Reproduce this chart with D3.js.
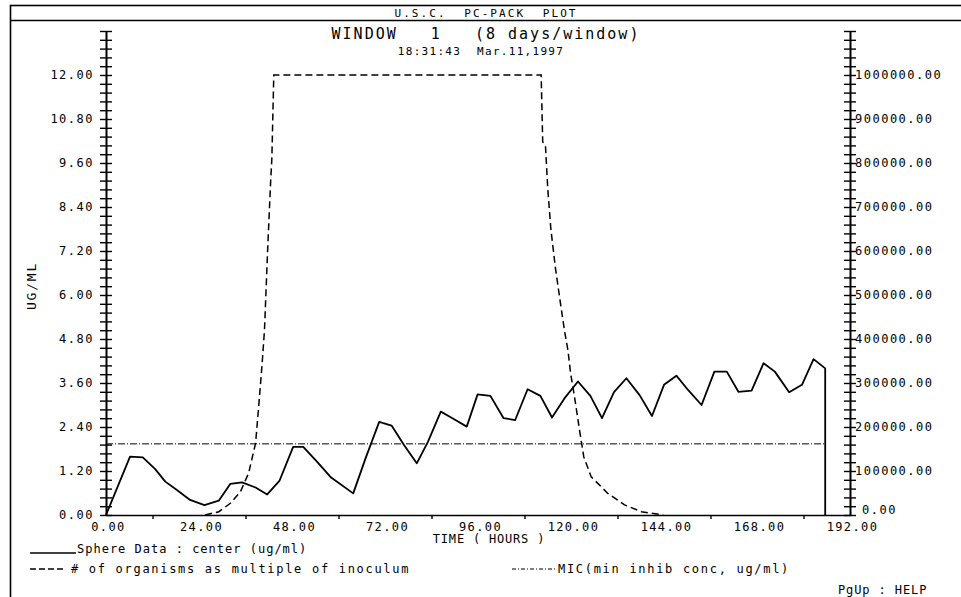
<!DOCTYPE html>
<html>
<head>
<meta charset="utf-8">
<script src="https://cdn.jsdelivr.net/npm/d3@7"></script>
<style>
  html, body { margin: 0; padding: 0; background: #fff; }
  svg { display: block; }
  text { font-family: "DejaVu Sans Mono", "Liberation Mono", monospace; fill: #000; white-space: pre; }
</style>
</head>
<body>
<svg id="chart" width="961" height="597"></svg>
<script>
// ---------------- DATA ----------------
const sphereHours = [0, 6.2, 9.5, 12.7, 15.3, 18.3, 21.7, 25.4, 29.1, 32.1, 35.1, 38.6, 41.6, 44.8,
  48.3, 50.9, 54.5, 58.1, 63.8, 67, 70.5, 73.7, 76.9, 80.2, 83.1, 86.4, 89.4, 93.1, 95.9, 99.2,
  102.6, 105.6, 108.8, 112.1, 115.1, 118.3, 121.8, 125, 128, 131.1, 134.3, 137.7, 140.9, 144,
  147.2, 150.2, 153.7, 157, 160.2, 163.2, 166.6, 169.7, 172.6, 176.3, 179.6, 182.6, 185.6, 185.6];
const sphereValues = [0, 1.59, 1.57, 1.25, 0.91, 0.68, 0.41, 0.27, 0.39, 0.85, 0.89, 0.75, 0.56, 0.94,
  1.86, 1.86, 1.45, 1.02, 0.59, 1.55, 2.54, 2.44, 1.91, 1.41, 2.0, 2.82, 2.64, 2.41, 3.29, 3.25,
  2.64, 2.59, 3.43, 3.25, 2.66, 3.18, 3.64, 3.25, 2.64, 3.35, 3.73, 3.27, 2.70, 3.55,
  3.80, 3.41, 3.0, 3.91, 3.91, 3.36, 3.39, 4.14, 3.91, 3.35, 3.55, 4.25, 4.0, 0];

const organismHours = [25.6, 29.1, 32.1, 34.7, 36.8, 38.6, 39.4, 40.3, 40.9, 41.7, 42.5, 42.8, 43.3,
  112.3, 112.7, 113.4, 114, 114.8, 116, 117.3, 118.3, 119.2, 119.9, 120.9, 122.2, 123.3, 125.2,
  129.5, 133.8, 138.2, 143.8];
const organismValues = [0, 7500, 26600, 53000, 95000, 163000, 246000, 345000, 420000, 600000, 760000, 810000, 1000000,
  1000000, 848000, 841000, 742000, 650000, 560000, 480000, 420000, 375000, 322000, 269000, 193000, 132000, 87000,
  49000, 23000, 7500, 0];

const micHours = [0, 185.6];
const micValues = [1.94, 1.94];

const xTickLabels = [0, 24, 48, 72, 96, 120, 144, 168, 192];
const xMinorTicks = [12, 36, 60, 84, 108, 132, 156, 180];
const leftTickLabels = [0, 1.2, 2.4, 3.6, 4.8, 6.0, 7.2, 8.4, 9.6, 10.8, 12.0];
const rightTickLabels = [0, 100000, 200000, 300000, 400000, 500000, 600000, 700000, 800000, 900000, 1000000];

const headerText = "U.S.C.  PC-PACK  PLOT";
const titleText = "WINDOW   1   (8 days/window)";
const dateText = "18:31:43  Mar.11,1997";
const yAxisTitle = "UG/ML";
const xAxisTitle = "TIME ( HOURS )";
const legendSphere = "Sphere Data : center (ug/ml)";
const legendOrganisms = "# of organisms as multiple of inoculum";
const legendMic = "MIC(min inhib conc, ug/ml)";
const helpText = "PgUp : HELP";

// ---------------- LAYOUT ----------------
const svg = d3.select("#chart");
const x = d3.scaleLinear().domain([0, 192]).range([106, 850]);
const yL = d3.scaleLinear().domain([0, 13.2]).range([515, 31]);
const yR = d3.scaleLinear().domain([0, 1100000]).range([515, 31]);
const f2 = d3.format(".2f");

function txt(xp, yp, s, size, ls, anchor) {
  return svg.append("text").attr("x", xp).attr("y", yp)
    .attr("text-anchor", anchor || "start").attr("dominant-baseline", "central")
    .attr("xml:space", "preserve")
    .style("font-size", size + "px").style("letter-spacing", ls + "px").text(s);
}

// outer frame
svg.append("rect").attr("x", 10.5).attr("y", 5.5).attr("width", 960).attr("height", 600)
  .attr("fill", "none").attr("stroke", "#000").attr("stroke-width", 1.6);
svg.append("line").attr("x1", 10).attr("x2", 961).attr("y1", 20.5).attr("y2", 20.5)
  .attr("stroke", "#000").attr("stroke-width", 1.6);

// header texts
txt(486, 13, headerText, 11, 2.1, "middle");
txt(486, 34, titleText, 15, 2.0, "middle");
txt(481, 51, dateText, 11, 1.3, "middle");

// ---------------- AXES ----------------
const minorL = d3.range(0, 13.2 + 1e-9, 0.24);
const minorR = d3.range(0, 1100000 + 1, 20000);

function crossAxis(xpos, scale, vals) {
  [d3.axisLeft, d3.axisRight].forEach(gen => {
    svg.append("g").attr("transform", `translate(${xpos},0)`)
      .call(gen(scale).tickValues(vals).tickSize(6).tickFormat("").tickSizeOuter(0))
      .call(g => g.selectAll("line").attr("stroke-width", 1.4))
      .call(g => g.select(".domain").attr("stroke-width", 1.6));
  });
}
crossAxis(106, yL, minorL);
crossAxis(850, yR, minorR);

function styleLabels(g, ls) {
  g.selectAll("text").style("font-size", "12px").style("letter-spacing", ls + "px")
    .style("font-family", "DejaVu Sans Mono").attr("fill", "#000");
}

// left labels
svg.append("g").attr("transform", "translate(106,0)")
  .call(d3.axisLeft(yL).tickValues(leftTickLabels).tickSize(0).tickPadding(12).tickFormat(f2))
  .call(g => g.select(".domain").remove())
  .call(g => styleLabels(g, 1.5));

// right labels
svg.append("g").attr("transform", "translate(850,0)")
  .call(d3.axisRight(yR).tickValues(rightTickLabels).tickSize(0).tickPadding(5).tickFormat(f2))
  .call(g => g.select(".domain").remove())
  .call(g => styleLabels(g, 1.5))
  .call(g => g.selectAll(".tick").filter(d => d === 0).select("text").attr("x", 12).attr("dy", "-0.1em"));

// x axis
svg.append("g").attr("transform", "translate(0,515)")
  .call(d3.axisBottom(x).tickValues(xMinorTicks).tickSize(4).tickFormat("").tickSizeOuter(0))
  .call(g => g.selectAll("line").attr("stroke-width", 1.4))
  .call(g => g.select(".domain").attr("stroke-width", 1.6));
svg.append("g").attr("transform", "translate(2,515)")
  .call(d3.axisBottom(x).tickValues(xTickLabels).tickSize(0).tickPadding(7).tickFormat(f2))
  .call(g => g.select(".domain").remove())
  .call(g => styleLabels(g, 1.4));

// axis titles
svg.append("text").attr("transform", "translate(31,286) rotate(-90)").attr("text-anchor", "middle")
  .attr("dominant-baseline", "central").style("font-size", "13px").style("letter-spacing", "1.8px")
  .text(yAxisTitle);
txt(489, 539, xAxisTitle, 12, 0.8, "middle");

// ---------------- SERIES ----------------
const sphereLine = d3.line().x(d => x(d[0])).y(d => yL(d[1]));
const orgLine = d3.line().x(d => x(d[0])).y(d => yR(d[1]));

svg.append("path").datum(micHours.map((h, i) => [h, micValues[i]]))
  .attr("d", sphereLine).attr("fill", "none").attr("stroke", "#000")
  .attr("stroke-width", 1).attr("stroke-dasharray", "7,2,1,2");

svg.append("path").datum(organismHours.map((h, i) => [h, organismValues[i]]))
  .attr("d", orgLine).attr("fill", "none").attr("stroke", "#000")
  .attr("stroke-width", 1.5).attr("stroke-dasharray", "7,4");

svg.append("path").datum(sphereHours.map((h, i) => [h, sphereValues[i]]))
  .attr("d", sphereLine).attr("fill", "none").attr("stroke", "#000")
  .attr("stroke-width", 1.8).attr("stroke-linejoin", "round");

// ---------------- LEGEND ----------------
svg.append("line").attr("x1", 30).attr("x2", 76).attr("y1", 553).attr("y2", 553)
  .attr("stroke", "#000").attr("stroke-width", 1.5);
txt(77, 549, legendSphere, 12, 1.0);

svg.append("line").attr("x1", 30).attr("x2", 64).attr("y1", 569).attr("y2", 569)
  .attr("stroke", "#000").attr("stroke-width", 1.4).attr("stroke-dasharray", "6,3");
txt(71, 569, legendOrganisms, 12, 1.7);

svg.append("line").attr("x1", 512).attr("x2", 556).attr("y1", 569).attr("y2", 569)
  .attr("stroke", "#000").attr("stroke-width", 1).attr("stroke-dasharray", "4,2,1,2");
txt(558, 569, legendMic, 12, 1.7);

txt(838, 590, helpText, 12, 0.9);
</script>
</body>
</html>
